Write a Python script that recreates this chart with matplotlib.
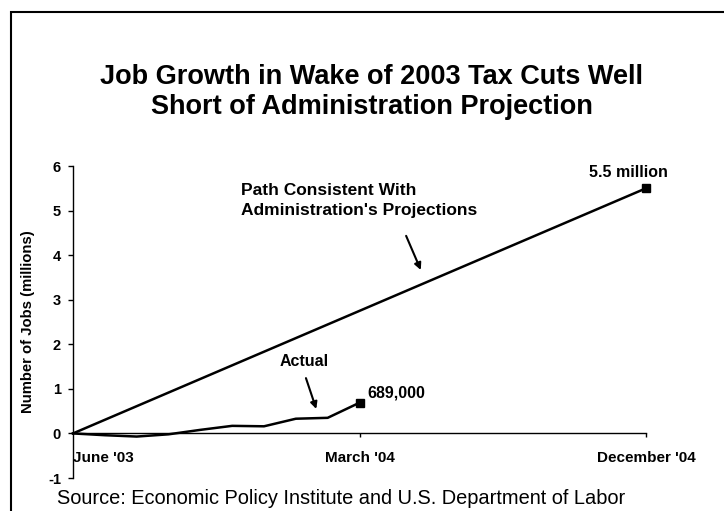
import matplotlib
matplotlib.use("Agg")
import matplotlib.pyplot as plt
from matplotlib.patches import Rectangle

plt.rcParams['font.family'] = ['Liberation Sans', 'DejaVu Sans']

# months since June '03
proj_months = [0, 18]
proj_values = [0, 5.5]

actual_months = [0, 1, 2, 3, 4, 5, 6, 7, 8, 9]
actual_values = [0, -0.04, -0.07, -0.02, 0.08, 0.17, 0.16, 0.33, 0.35, 0.689]

tick_pos = [0, 9, 18]
tick_labels = ["June '03", "March '04", "December '04"]

W, H = 724, 511
fig = plt.figure(figsize=(W / 100, H / 100), dpi=100)
ax = fig.add_axes([73 / W, (H - 478) / H, 573 / W, 312 / H])

ax.plot(proj_months, proj_values, color='black', lw=1.8, clip_on=False)
ax.plot(actual_months, actual_values, color='black', lw=1.8, clip_on=False)
ax.plot(proj_months[-1], proj_values[-1], 's', color='black', ms=5.5, clip_on=False)
ax.plot(actual_months[-1], actual_values[-1], 's', color='black', ms=5.5, clip_on=False)

ax.set_xlim(0, 18)
ax.set_ylim(-1, 6)
ax.spines['top'].set_visible(False)
ax.spines['right'].set_visible(False)
ax.spines['bottom'].set_position(('data', 0))
ax.spines['left'].set_linewidth(1)
ax.spines['bottom'].set_linewidth(1)

ax.set_yticks(range(-1, 7))
ax.set_yticklabels([str(v) for v in range(-1, 7)])
ax.tick_params(axis='y', direction='out', length=3.6, width=1, pad=5,
               labelsize=10.5)
for lbl in ax.get_yticklabels():
    lbl.set_fontweight('bold')

ax.set_xticks(tick_pos)
ax.set_xticklabels(tick_labels, fontsize=11, fontweight='bold')
ax.tick_params(axis='x', direction='out', length=3, width=1, pad=10)
ax.get_xticklabels()[0].set_horizontalalignment('left')
ax.xaxis.get_major_ticks()[0].tick1line.set_visible(False)

ax.set_ylabel('Number of Jobs (millions)', fontsize=10.7, fontweight='bold')
ax.yaxis.set_label_coords(-0.066, 0.5)

# annotations
ax.text(6.5, 1.62, 'Actual', fontsize=11.5, fontweight='bold', va='center')
ax.annotate('', xy=(7.67, 0.49), xytext=(7.29, 1.3),
            arrowprops=dict(arrowstyle='-|>', color='black', lw=1.5,
                            mutation_scale=10))
ax.text(9.24, 0.9, '689,000', fontsize=11.5, fontweight='bold', va='center')
ax.text(17.44, 5.86, '5.5 million', fontsize=11.5, fontweight='bold',
        ha='center', va='center')
ax.text(5.27, 5.22, "Path Consistent With\nAdministration's Projections",
        fontsize=12.5, fontweight='bold', va='center', linespacing=1.45)
ax.annotate('', xy=(10.96, 3.61), xytext=(10.43, 4.49),
            arrowprops=dict(arrowstyle='-|>', color='black', lw=1.5,
                            mutation_scale=10))

fig.text(372 / W, 1 - 92.5 / H,
         'Job Growth in Wake of 2003 Tax Cuts Well\nShort of Administration Projection',
         ha='center', va='center', fontsize=19.5, fontweight='bold',
         linespacing=1.2)
fig.text(57 / W, 1 - 498 / H,
         'Source: Economic Policy Institute and U.S. Department of Labor',
         fontsize=14.4, va='center')

fig.patches.append(Rectangle((11 / W, -0.1), 2, 1 - 12 / H + 0.1,
                             transform=fig.transFigure, fill=False,
                             lw=1.5, edgecolor='black'))

fig.savefig('out.png', dpi=100)
